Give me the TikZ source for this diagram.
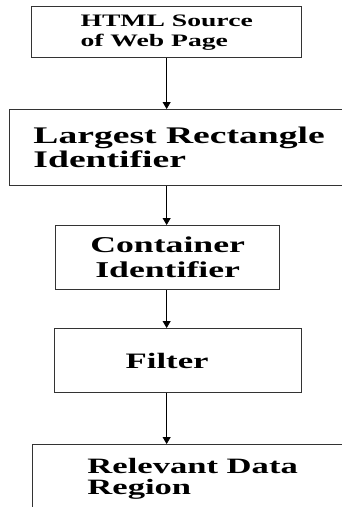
\documentclass[tikz,border=0pt]{standalone}
\usepackage{fontspec}
\newfontfamily\stagefont{Liberation Serif}[FakeStretch=1.58]
\usetikzlibrary{arrows.meta}
\tikzset{
	stage/.style={
			draw=black!80, line width=1.3pt, rectangle, anchor=north west,
			inner sep=0pt, text=black
		},
	flow/.style={-{Triangle[width=8pt,length=7pt]}, line width=0.8pt}
}

\begin{document}
\begin{tikzpicture}[x=1pt,y=-1pt]

	\path[use as bounding box,clip] (0,0) rectangle (342,507);

	% Draw the stages
	\node[stage,minimum width=270pt,minimum height=51pt,align=left,
		font={\stagefont\bfseries\fontsize{17.5}{20}\selectfont}] (html) at (31,6) {HTML Source\\of Web Page};
	\node[stage,minimum width=339pt,minimum height=76pt,align=left,
		font={\stagefont\bfseries\fontsize{23.8}{24}\selectfont}] (rect) at (9,109) {Largest Rectangle\\Identifier};
	\node[stage,minimum width=224pt,minimum height=64pt,align=center,
		font={\stagefont\bfseries\fontsize{22.6}{25}\selectfont}] (cont) at (55,225) {Container\\Identifier};
	\node[stage,minimum height=64pt,inner xsep=71pt,text width=105pt,align=left,
		font={\stagefont\bfseries\fontsize{22}{24}\selectfont}] (filt) at (54,328) {Filter};
	\node[stage,minimum width=320pt,minimum height=68pt,align=left,
		font={\stagefont\bfseries\fontsize{21.9}{21}\selectfont}] (region) at (32,444) {Relevant Data\\Region};

	% Draw the arrows
	\draw[flow] (html.south) -- (rect.north -| html.south);
	\draw[flow] (rect.south -| html.south) -- (cont.north -| html.south);
	\draw[flow] (cont.south -| html.south) -- (filt.north -| html.south);
	\draw[flow] (filt.south -| html.south) -- (region.north -| html.south);
\end{tikzpicture}
\end{document}
